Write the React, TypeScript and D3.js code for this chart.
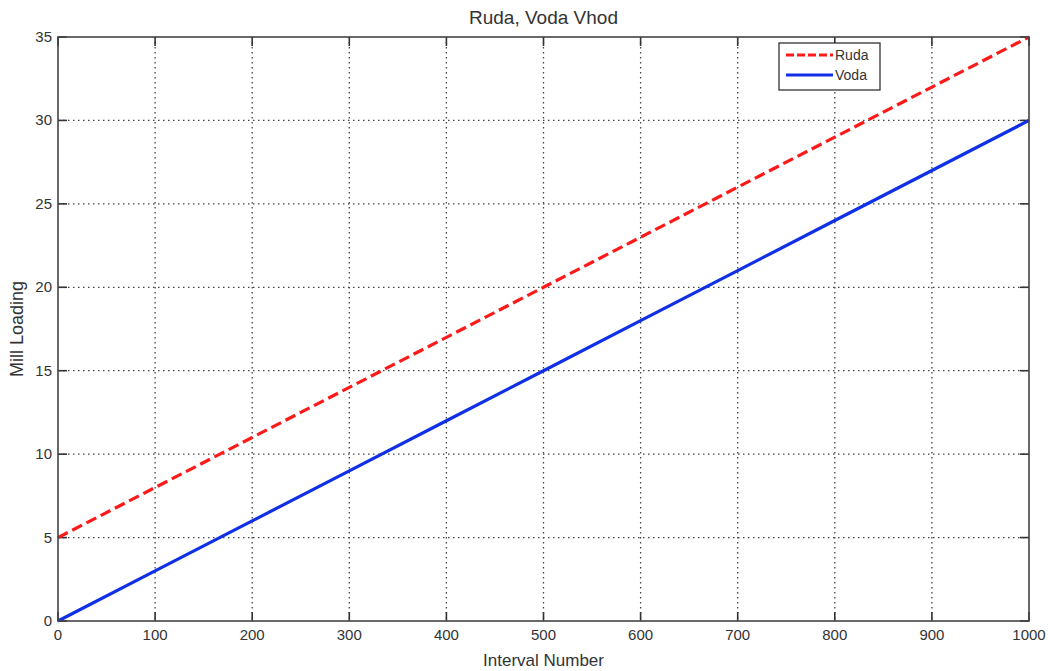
import React from "react";
import * as d3 from "d3";

const intervals = [0, 100, 200, 300, 400, 500, 600, 700, 800, 900, 1000];
const rudaValues = [5, 8, 11, 14, 17, 20, 23, 26, 29, 32, 35];
const vodaValues = [0, 3, 6, 9, 12, 15, 18, 21, 24, 27, 30];
const xTicks = [0, 100, 200, 300, 400, 500, 600, 700, 800, 900, 1000];
const yTicks = [0, 5, 10, 15, 20, 25, 30, 35];

const W = 1048, H = 671;
const L = 58, R = 1029, T = 37, B = 621;

export default function App() {
  const x = d3.scaleLinear().domain([0, 1000]).range([L, R]);
  const y = d3.scaleLinear().domain([0, 35]).range([B, T]);
  const line = d3.line<number>().x((_, i) => x(intervals[i])).y((d) => y(d));
  const font = "'Liberation Sans', Arial, sans-serif";
  return (
    <svg width={W} height={H} style={{ position: "absolute", left: 0, top: 0, background: "#fff" }} fontFamily={font}>
      <rect x={0} y={0} width={W} height={H} fill="#fff" />
      {xTicks.slice(1, -1).map((t) => (
        <line key={"gx" + t} x1={x(t)} x2={x(t)} y1={T} y2={B} stroke="#444" strokeWidth={1.3} strokeDasharray="1.5,3.5" />
      ))}
      {yTicks.slice(1, -1).map((t) => (
        <line key={"gy" + t} x1={L} x2={R} y1={y(t)} y2={y(t)} stroke="#444" strokeWidth={1.3} strokeDasharray="1.5,3.5" />
      ))}
      {xTicks.map((t) => (
        <g key={"tx" + t}>
          <line x1={x(t)} x2={x(t)} y1={B} y2={B - 9} stroke="#333" strokeWidth={1.6} />
          <line x1={x(t)} x2={x(t)} y1={T} y2={T + 9} stroke="#333" strokeWidth={1.6} />
          <text x={x(t)} y={B + 19} textAnchor="middle" fontSize={15} fill="#333">{t}</text>
        </g>
      ))}
      {yTicks.map((t) => (
        <g key={"ty" + t}>
          <line x1={L} x2={L + 9} y1={y(t)} y2={y(t)} stroke="#333" strokeWidth={1.6} />
          <line x1={R} x2={R - 9} y1={y(t)} y2={y(t)} stroke="#333" strokeWidth={1.6} />
          <text x={L - 6} y={y(t) + 5} textAnchor="end" fontSize={15} fill="#333">{t}</text>
        </g>
      ))}
      <path d={line(rudaValues) || ""} fill="none" stroke="#ff1a1a" strokeWidth={3.2} strokeDasharray="11,5" />
      <path d={line(vodaValues) || ""} fill="none" stroke="#1030e8" strokeWidth={3.2} />
      <rect x={L} y={T} width={R - L} height={B - T} fill="none" stroke="#444" strokeWidth={1.6} />
      <text x={(L + R) / 2} y={24} textAnchor="middle" fontSize={19} fill="#333">Ruda, Voda Vhod</text>
      <text x={(L + R) / 2} y={666} textAnchor="middle" fontSize={17} fill="#333">Interval Number</text>
      <text transform={`translate(23,${(T + B) / 2}) rotate(-90)`} textAnchor="middle" fontSize={18} fill="#333">Mill Loading</text>
      <g>
        <rect x={779} y={43} width={101} height={47} fill="#fff" stroke="#333" strokeWidth={1.3} />
        <line x1={786} x2={833} y1={55} y2={55} stroke="#ff1a1a" strokeWidth={3.2} strokeDasharray="8,3" />
        <text x={835} y={60} fontSize={14} fill="#333">Ruda</text>
        <line x1={786} x2={833} y1={75} y2={75} stroke="#1030e8" strokeWidth={3.2} />
        <text x={835} y={80} fontSize={14} fill="#333">Voda</text>
      </g>
    </svg>
  );
}
